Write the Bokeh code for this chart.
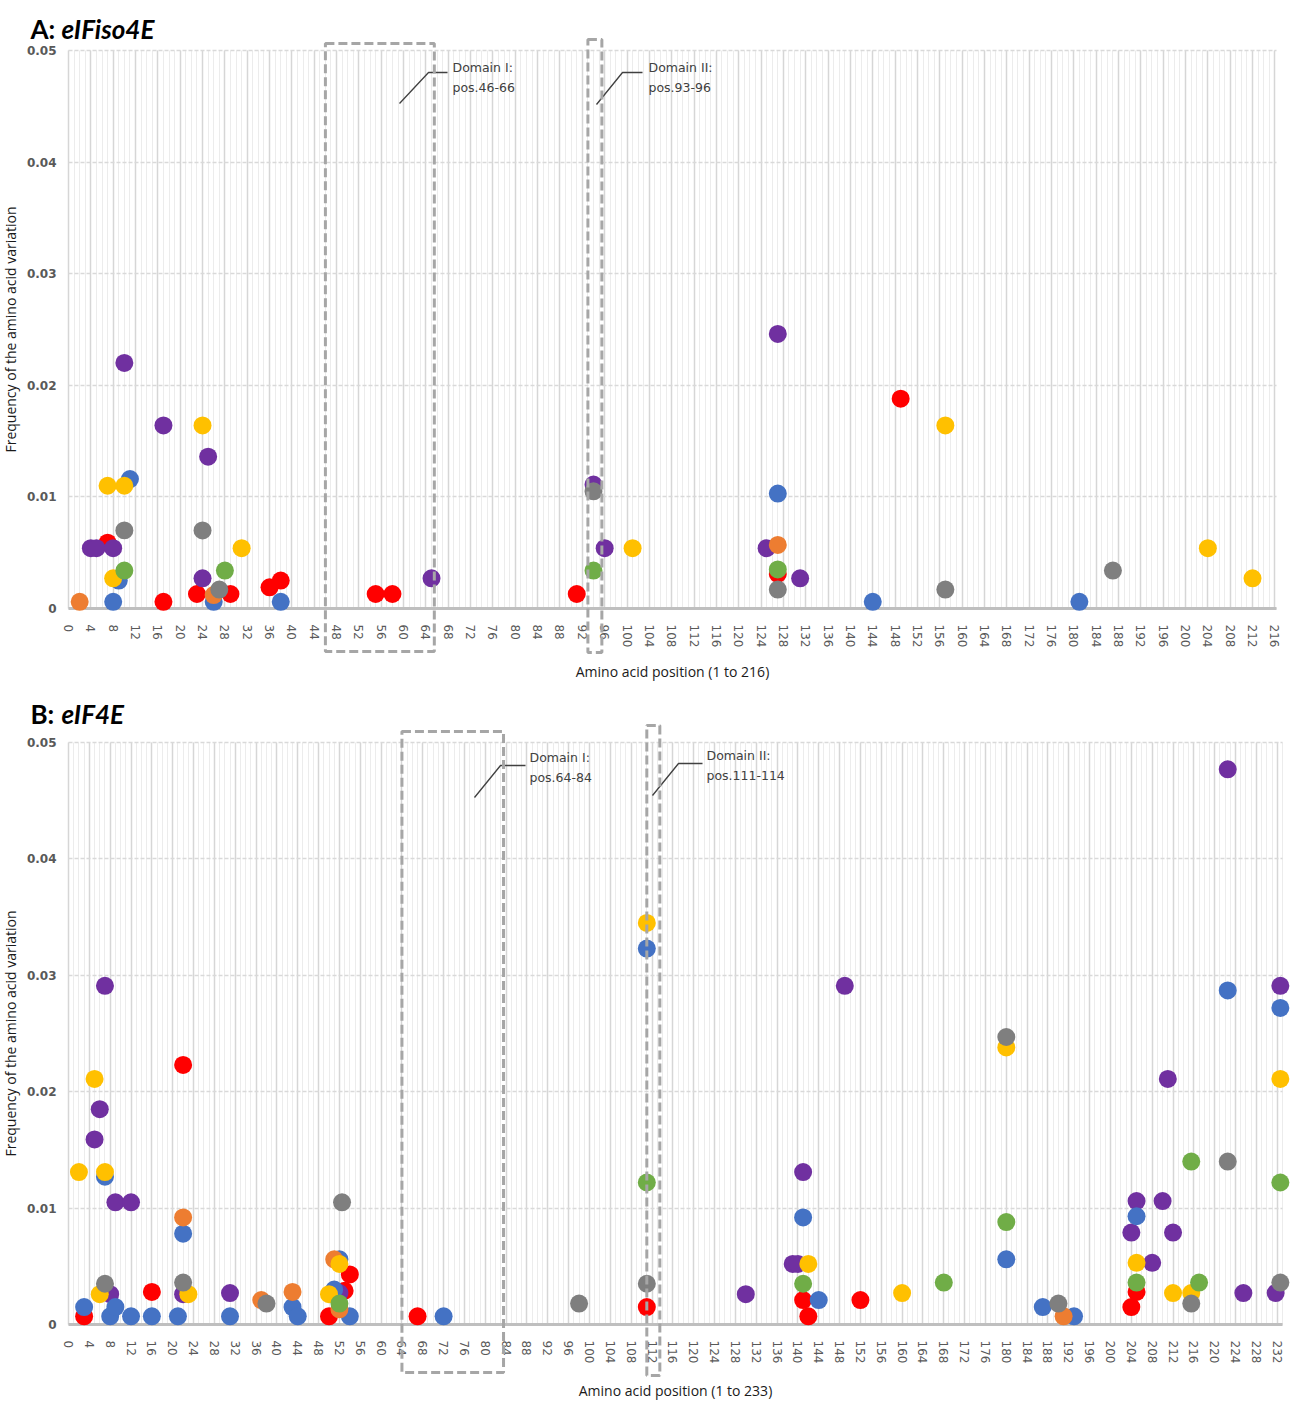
from bokeh.plotting import figure
from bokeh.models import (BoxAnnotation, Label, SingleIntervalTicker, FixedTicker,
                          NumeralTickFormatter, Range1d, Grid)
from bokeh.layouts import column
from bokeh.embed import file_html
from bokeh.resources import INLINE

# ---------------- colours of the seven series ----------------
COLORS = {
    "red": "#FF0000",
    "purple": "#7030A0",
    "blue": "#4472C4",
    "orange": "#ED7D31",
    "yellow": "#FFC000",
    "gray": "#7F7F7F",
    "green": "#70AD47",
}
DRAW_ORDER = ["red", "purple", "blue", "orange", "yellow", "gray", "green"]

# ---------------- Panel A: eIFiso4E ----------------
A_RED_POS = [7, 17, 23, 29, 36, 38, 55, 58, 91, 127, 149]
A_RED_FREQ = [0.0059, 0.0006, 0.0013, 0.0013, 0.0019, 0.0025, 0.0013, 0.0013, 0.0013, 0.0031, 0.0188]
A_PURPLE_POS = [4, 5, 8, 10, 17, 24, 25, 65, 94, 96, 125, 127, 131]
A_PURPLE_FREQ = [0.0054, 0.0054, 0.0054, 0.0220, 0.0164, 0.0027, 0.0136, 0.0027, 0.0111, 0.0054, 0.0054, 0.0246, 0.0027]
A_BLUE_POS = [8, 9, 11, 26, 38, 127, 144, 181]
A_BLUE_FREQ = [0.0006, 0.0025, 0.0116, 0.0006, 0.0006, 0.0103, 0.0006, 0.0006]
A_ORANGE_POS = [2, 26, 127]
A_ORANGE_FREQ = [0.0006, 0.0012, 0.0057]
A_YELLOW_POS = [7, 8, 10, 24, 31, 101, 157, 204, 212]
A_YELLOW_FREQ = [0.0110, 0.0027, 0.0110, 0.0164, 0.0054, 0.0054, 0.0164, 0.0054, 0.0027]
A_GRAY_POS = [10, 24, 27, 94, 127, 157, 187]
A_GRAY_FREQ = [0.0070, 0.0070, 0.0017, 0.0105, 0.0017, 0.0017, 0.0034]
A_GREEN_POS = [10, 28, 94, 127]
A_GREEN_FREQ = [0.0034, 0.0034, 0.0034, 0.0035]

A_DOMAINS = [(46, 66), (93, 96)]
A_DOMAIN_TEXT = [("Domain I:", "pos.46-66"), ("Domain II:", "pos.93-96")]
A_LENGTH = 216

# ---------------- Panel B: eIF4E ----------------
B_RED_POS = [3, 16, 22, 50, 53, 54, 67, 111, 141, 142, 152, 204, 205]
B_RED_FREQ = [0.0007, 0.0028, 0.0223, 0.0007, 0.0029, 0.0043, 0.0007, 0.0015, 0.0021, 0.0007, 0.0021, 0.0015, 0.0028]
B_PURPLE_POS = [5, 6, 7, 8, 9, 12, 22, 31, 52, 130, 139, 140, 141, 149, 204, 205, 208, 210, 211, 212, 222.5, 225.5,
                231.7, 232.6]
B_PURPLE_FREQ = [0.0159, 0.0185, 0.0291, 0.0026, 0.0105, 0.0105, 0.0026, 0.0027, 0.0027, 0.0026, 0.0052, 0.0052, 0.0131,
                 0.0291, 0.0079, 0.0106, 0.0053, 0.0106, 0.0211, 0.0079, 0.0477, 0.0027, 0.0027, 0.0291]
B_BLUE_POS = [3, 7, 8, 9, 12, 16, 21, 22, 31, 43, 44, 51, 52, 54, 72, 111, 141, 144, 180, 187, 193, 205, 222.5, 232.6]
B_BLUE_FREQ = [0.0015, 0.0127, 0.0007, 0.0015, 0.0007, 0.0007, 0.0007, 0.0078, 0.0007, 0.0015, 0.0007, 0.0030, 0.0056,
               0.0007, 0.0007, 0.0323, 0.0092, 0.0021, 0.0056, 0.0015, 0.0007, 0.0093, 0.0287, 0.0272]
B_ORANGE_POS = [22, 37, 43, 51, 52, 191]
B_ORANGE_FREQ = [0.0092, 0.0021, 0.0028, 0.0056, 0.0013, 0.0007]
B_YELLOW_POS = [2, 5, 6, 7, 23, 50, 52, 111, 142, 160, 180, 205, 212, 215.5, 232.6]
B_YELLOW_FREQ = [0.0131, 0.0211, 0.0026, 0.0131, 0.0026, 0.0026, 0.0052, 0.0345, 0.0052, 0.0027, 0.0238, 0.0053, 0.0027,
                 0.0027, 0.0211]
B_GRAY_POS = [7, 22, 38, 52.5, 98, 111, 180, 190, 215.5, 222.5, 232.6]
B_GRAY_FREQ = [0.0035, 0.0036, 0.0018, 0.0105, 0.0018, 0.0035, 0.0247, 0.0018, 0.0018, 0.0140, 0.0036]
B_GREEN_POS = [52, 111, 141, 168, 180, 205, 215.5, 217, 232.6]
B_GREEN_FREQ = [0.0018, 0.0122, 0.0035, 0.0036, 0.0088, 0.0036, 0.0140, 0.0036, 0.0122]

B_DOMAINS = [(64, 84), (111, 114)]
B_DOMAIN_TEXT = [("Domain I:", "pos.64-84"), ("Domain II:", "pos.111-114")]
B_LENGTH = 233

Y_TICKS = [0, 0.01, 0.02, 0.03, 0.04, 0.05]
Y_MAX = 0.05
Y_LABEL = "Frequency of the amino acid variation"

A_SERIES = {
    "red": (A_RED_POS, A_RED_FREQ), "purple": (A_PURPLE_POS, A_PURPLE_FREQ),
    "blue": (A_BLUE_POS, A_BLUE_FREQ), "orange": (A_ORANGE_POS, A_ORANGE_FREQ),
    "yellow": (A_YELLOW_POS, A_YELLOW_FREQ), "gray": (A_GRAY_POS, A_GRAY_FREQ),
    "green": (A_GREEN_POS, A_GREEN_FREQ),
}
B_SERIES = {
    "red": (B_RED_POS, B_RED_FREQ), "purple": (B_PURPLE_POS, B_PURPLE_FREQ),
    "blue": (B_BLUE_POS, B_BLUE_FREQ), "orange": (B_ORANGE_POS, B_ORANGE_FREQ),
    "yellow": (B_YELLOW_POS, B_YELLOW_FREQ), "gray": (B_GRAY_POS, B_GRAY_FREQ),
    "green": (B_GREEN_POS, B_GREEN_FREQ),
}

TEXT_DARK = "#404040"
FIG_W = 1295


def make_panel(letter, gene, series, domains, domain_text, length, x_end, fig_h,
               px_left, px_per_unit, py_zero, py_top, title_base, box_tops, box_bottoms,
               callouts, xlabel_standoff):
    """Layout in pixels of the figure canvas; the frame covers the whole canvas
    and the axes are pinned at x=0 / y=0 so that nothing outside is clipped."""
    py_per_unit = (py_zero - py_top) / Y_MAX

    def X(px):
        return (px - px_left) / px_per_unit

    def Y(py):
        return (py_zero - py) / py_per_unit

    p = figure(width=FIG_W, height=fig_h, output_backend="svg", toolbar_location=None,
               x_range=Range1d(X(0), X(FIG_W)), y_range=Range1d(Y(fig_h), Y(0)),
               min_border=0)
    p.background_fill_color = "white"
    p.border_fill_color = "white"
    p.outline_line_color = None

    # ----- x axis (pinned at y = 0)
    xa = p.xaxis[0]
    xa.fixed_location = 0
    xa.bounds = (0, x_end)
    xa.ticker = SingleIntervalTicker(interval=4, num_minor_ticks=4)
    xa.major_label_orientation = "vertical"
    xa.major_label_text_font = "DejaVu Sans"
    xa.major_label_text_font_size = "12px"
    xa.major_label_text_color = "#595959"
    xa.major_label_standoff = 10
    xa.major_tick_line_color = None
    xa.minor_tick_line_color = None
    xa.axis_line_color = "#BFBFBF"
    xa.axis_line_width = 3
    xa.axis_label = f"Amino acid position (1 to {length})"
    xa.axis_label_text_font = "Open Sans"
    xa.axis_label_text_font_size = "14px"
    xa.axis_label_text_font_style = "normal"
    xa.axis_label_text_color = "#1a1a1a"
    xa.axis_label_standoff = xlabel_standoff

    # ----- y axis (pinned at x = 0)
    ya = p.yaxis[0]
    ya.fixed_location = 0
    ya.bounds = (0, Y_MAX)
    ya.ticker = FixedTicker(ticks=Y_TICKS)
    ya.formatter = NumeralTickFormatter(format="0.[00]")
    ya.major_label_text_font = "DejaVu Sans"
    ya.major_label_text_font_size = "12px"
    ya.major_label_text_font_style = "bold"
    ya.major_label_text_color = "#595959"
    ya.major_label_standoff = 6
    ya.major_tick_line_color = None
    ya.minor_tick_line_color = None
    ya.axis_line_color = None
    ya.axis_label = Y_LABEL
    ya.axis_label_text_font = "Open Sans"
    ya.axis_label_text_font_size = "14px"
    ya.axis_label_text_font_style = "normal"
    ya.axis_label_text_color = "#1a1a1a"
    ya.axis_label_standoff = 4

    # ----- grids, limited to the data area
    xg, yg = p.xgrid[0], p.ygrid[0]
    xg.grid_line_color = "#D6D6D6"
    xg.grid_line_width = 1.5
    xg.minor_grid_line_color = "#ECECEC"
    xg.minor_grid_line_width = 1
    yg.grid_line_color = "#D9D9D9"
    yg.grid_line_width = 1.5
    yg.grid_line_dash = "4 2"
    if "cross_bounds" in Grid.properties():
        xg.cross_bounds = (0, Y_MAX)
        yg.cross_bounds = (0, x_end)

    # ----- points
    for name in DRAW_ORDER:
        xs, ys = series[name]
        p.scatter(xs, ys, size=18, color=COLORS[name], line_color=None, level="annotation")

    # ----- domain boxes, callouts and texts
    for (start, end), (t1, t2), co, bt, bb in zip(domains, domain_text, callouts,
                                                  box_tops, box_bottoms):
        p.add_layout(BoxAnnotation(left=start, right=end - 0.5, top=Y(bt), bottom=Y(bb),
                                   fill_alpha=0, line_color="#A6A6A6", line_alpha=1.0,
                                   line_width=3, line_dash="9 4", level="overlay"))
        (x0, y0), (x1, y1), x2, tx, ty1, ty2 = co
        p.line([X(x0), X(x1), X(x2)], [Y(y0), Y(y1), Y(y1)], line_color=TEXT_DARK,
               line_width=1.3, level="overlay")
        for txt, ty in ((t1, ty1), (t2, ty2)):
            p.add_layout(Label(x=X(tx), y=Y(ty), text=txt, text_font="DejaVu Sans",
                               text_font_size="12.5px", text_color=TEXT_DARK,
                               text_baseline="middle", text_align="left"))

    # ----- panel title
    p.add_layout(Label(x=X(30), y=Y(title_base), text=f"{letter}:", text_font="Lato",
                       text_font_size="26px", text_font_style="bold", text_color="black",
                       text_baseline="alphabetic"))
    p.add_layout(Label(x=X(61), y=Y(title_base), text=gene, text_font="Lato",
                       text_font_size="26px", text_font_style="bold italic",
                       text_color="black", text_baseline="alphabetic"))
    return p


# callouts in canvas pixels: diagonal start, elbow, end of horizontal, text x, text line y's
CALLOUTS_A = [((399, 103), (428, 72), 447, 452, 67, 87),
              ((596, 104), (622, 72), 642, 648, 67, 87)]
CALLOUTS_B = [((474, 107), (500, 75), 525, 529, 67, 87),
              ((652, 105), (678, 73), 702, 706, 65, 85)]

pA = make_panel("A", "eIFiso4E", A_SERIES, A_DOMAINS, A_DOMAIN_TEXT, A_LENGTH, 216.3, 690,
                px_left=68, px_per_unit=5.585, py_zero=608, py_top=50, title_base=28,
                box_tops=[43, 39], box_bottoms=[651, 652], callouts=CALLOUTS_A,
                xlabel_standoff=12)
pB = make_panel("B", "eIF4E", B_SERIES, B_DOMAINS, B_DOMAIN_TEXT, B_LENGTH, 233, 711,
                px_left=68, px_per_unit=5.21, py_zero=634, py_top=52, title_base=23,
                box_tops=[41, 35], box_bottoms=[682, 685], callouts=CALLOUTS_B,
                xlabel_standoff=15)

layout = column(pA, pB, spacing=0)
open("out.html", "w").write(file_html(layout, INLINE))
